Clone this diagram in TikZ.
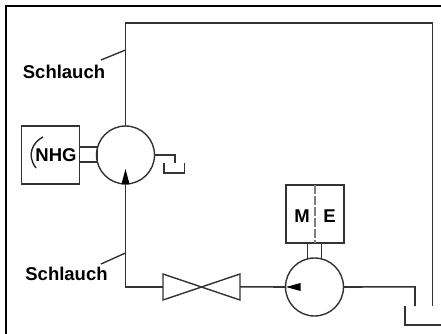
\documentclass[tikz,border=0pt]{standalone}
\usepackage{fontspec}
\setmainfont{Liberation Sans}
\definecolor{pipe}{HTML}{333333}
\tikzset{
  x=1pt,y=-1pt,
  line/.style={draw=pipe,line width=1.6pt,line join=miter},
  thin line/.style={draw=pipe,line width=1.4pt},
  circ/.style={circle,draw=pipe,line width=1.4pt,minimum size=58pt,inner sep=0pt,outer sep=0pt},
  sq/.style={rectangle,draw=pipe,line width=1.4pt,minimum size=58pt,inner sep=0pt,outer sep=0pt},
  lbl/.style={font=\fontsize{18.5}{20}\selectfont\bfseries,text=black,inner sep=0pt},
  tip/.style={fill=black,draw=none},
}
\begin{document}
\begin{tikzpicture}
\useasboundingbox (0,0) rectangle (441,334);
\fill[white] (0,0) rectangle (441,334);
% frame
\draw[black,line width=2pt] (6,334) -- (6,6.5) -- (441,6.5);
% nodes
\node[circ] (hm) at (125.5,155) {};
\node[circ] (pu) at (314.5,287) {};
\node[sq] (nhg) at (50.7,155) {};
\node[sq] (me) at (315,214) {};
\node[lbl] (nhgt) at (56,155.5) {NHG};
\node[lbl] (mt) at (302,216) {M};
\node[lbl] (et) at (329.5,216) {E};
\node[lbl] (s1) at (64,72) {Schlauch};
\node[lbl] (s2) at (66.5,274) {Schlauch};
% coordinates
\coordinate (tl) at (125.5,23);
\coordinate (tr) at (432.3,23);
\coordinate (re) at (432.3,305.5);
\coordinate (lk) at (125.5,286.8);
\coordinate (va) at (163,286.8);
\coordinate (vb) at (240,286.8);
\coordinate (po) at (415,286.8);
\coordinate (pe) at (415,306);
\coordinate (t1a) at (164,163);
\coordinate (t1b) at (164,172.8);
\coordinate (t1c) at (184.5,172.8);
\coordinate (t1d) at (184.5,163);
\coordinate (ok) at (175,155);
\coordinate (oe) at (175,163);
\coordinate (t2a) at (404.7,306);
\coordinate (t2b) at (404.7,325);
\coordinate (t2c) at (441,325);
\coordinate (l1a) at (101,60);
\coordinate (l1b) at (125.5,50);
\coordinate (l2a) at (101,264);
\coordinate (l2b) at (125.5,253);
% pipes
\draw[line] (hm.north) -- (tl) -- (tr) -- (re);
\draw[line] (hm.south) -- (lk) -- (va);
\draw[line] (vb) -- (pu.west);
\draw[line] (pu.east) -- (po) -- (pe);
\draw[line] (t2a) -- (t2b) -- (t2c);
\draw[thin line] (hm.east) -- (ok) -- (oe);
\draw[thin line] (t1a) -- (t1b) -- (t1c) -- (t1d);
% leaders
\draw[thin line] (l1a) -- (l1b);
\draw[thin line] (l2a) -- (l2b);
% valve
\draw[thin line,line join=miter] (163,274) -- (240,300) -- (240,274) -- (163,300) -- cycle;
% couplings
\draw[thin line] (nhg.east |- 0,147) -- (97.5,147);
\draw[thin line] (nhg.east |- 0,162) -- (97.5,162);
\draw[thin line] (97.5,147) -- (97.5,162);
\draw[thin line] (307.3,243) -- (307.3,258.5);
\draw[thin line] (321.7,243) -- (321.7,258.5);
% dashed divider
\draw[draw=gray,line width=1.2pt,dash pattern=on 9pt off 2pt] (me.north) -- (me.south);
% arrows
\fill[tip] (125.5,169) -- (129.5,184) -- (121.5,184) -- cycle;
\fill[tip] (286,287) -- (300.5,283) -- (300.5,291) -- cycle;
% rotation arc
\draw[thin line,black!85] (43,137) .. controls (33,142) and (26,155) .. (36,168);
\end{tikzpicture}
\end{document}
